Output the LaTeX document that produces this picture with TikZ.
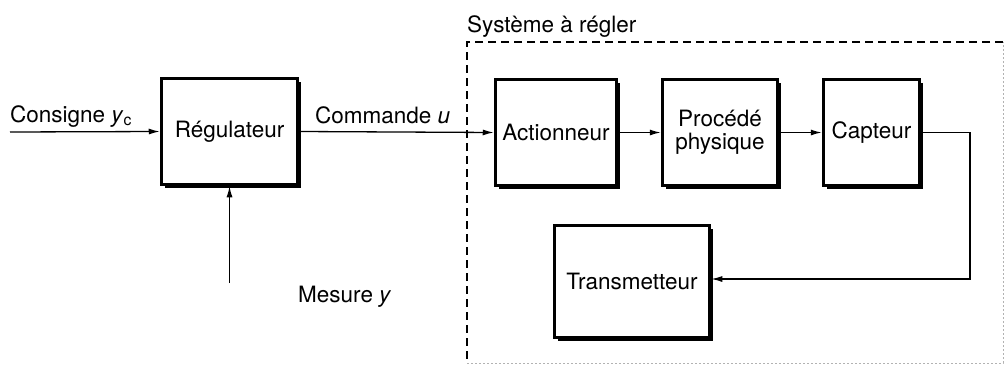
\documentclass[tikz,border=0pt]{standalone}
\usepackage{fontspec}
\setmainfont{TeX Gyre Heros}
\usetikzlibrary{positioning, arrows.meta, shadows}

\begin{document}
\begin{tikzpicture}[
    x=1pt, y=-1pt,
    font=\fontsize{22.5}{25}\selectfont,
    box/.style={rectangle, draw, line width=3.5pt, fill=white, minimum height=106pt, align=center,
        drop shadow={shadow xshift=3.5pt, shadow yshift=-3.5pt, opacity=1, fill=black}},
    arrow/.style={-{Latex[length=11pt, width=6pt]}, line width=1.3pt},
    lbl/.style={inner sep=0pt, anchor=base west}
]
    \useasboundingbox (0,0) rectangle (1005,367);
    \clip (0,0) rectangle (1005,367);

    % System boundary
    \draw[dash pattern=on 8pt off 5pt, line width=1.2pt] (1003,42) -- (467,42) -- (467,363);
    \draw[dash pattern=on 2pt off 2pt, line width=0.8pt, black!30] (467,363) -- (1003,363) -- (1003,42);
    \node[lbl] (sys) at (467,32) {Système à régler};

    % Controller and plant blocks
    \node[box, minimum width=136pt] (reg) at (229.5,131.5) {Régulateur};
    \node[box, minimum width=121pt] (act) at (556,132.5) {Actionneur};
    \node[box, minimum width=115pt] (proc) at (720,132.5) {Procédé\\[-2pt]physique};
    \node[box, minimum width=96pt] (cap) at (871.5,132.5) {Capteur};
    \node[box, minimum width=155pt, minimum height=112pt] (trans) at (632,281.5) {Transmetteur};

    % Free ends
    \coordinate (in) at (10,132);
    \coordinate (mes) at (229.5,283);
    \coordinate (fb) at (970,279);

    % Signal labels
    \node[lbl] (cons) at (10,122) {Consigne \textit{y}\textsubscript{c}};
    \node[lbl] (cmd) at (315,123) {Commande \textit{u}};
    \node[inner sep=0pt, anchor=west] (mesl) at (298,297) {Mesure \textit{y}};

    % Arrows
    \draw[arrow] (in) -- (reg.west);
    \draw[arrow] (mes) -- (reg.south);
    \draw[arrow] (reg.east) -- (act.west);
    \draw[arrow] (act.east) -- (proc.west);
    \draw[arrow] (proc.east) -- (cap.west);
    \draw[arrow] (cap.east) -| (fb) -- (fb -| trans.east);
\end{tikzpicture}
\end{document}
